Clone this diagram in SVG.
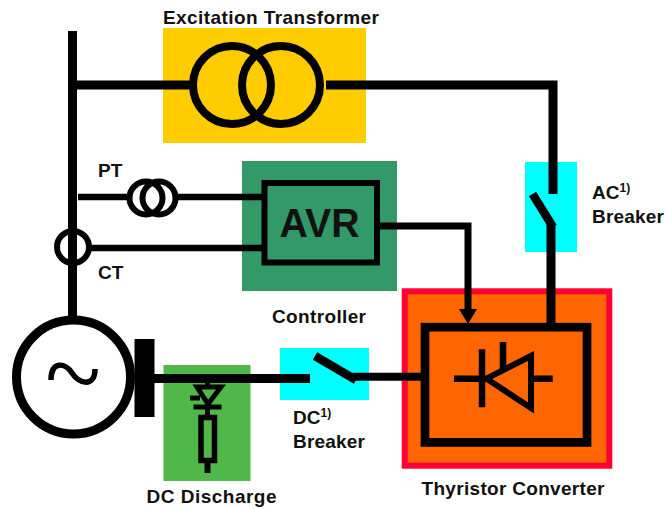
<svg xmlns="http://www.w3.org/2000/svg" width="665" height="509" viewBox="0 0 665 509">
<style>
text{font-family:"Liberation Sans",Arial,sans-serif;font-weight:bold;font-size:19px;fill:#111}
.s{font-size:12px}
.n{fill:none;stroke:#000}
.c{fill:none;stroke:#000;stroke-linecap:butt;stroke-linejoin:miter}
.w9{stroke-width:9}.w6{stroke-width:6.5}
</style>
<rect width="665" height="509" fill="#fff"/>
<g id="excitation-transformer-bg"><rect x="163" y="28" width="203" height="115" fill="#FFCC00"/></g>
<g id="controller-bg"><rect x="242" y="161" width="155" height="130" fill="#339966"/></g>
<g id="ac-breaker-bg"><rect x="525" y="162" width="52" height="90" fill="#00FFFF"/></g>
<g id="thyristor-converter-bg"><rect x="404.7" y="291.3" width="204.6" height="174.4" fill="#FF6600" stroke="#FF0033" stroke-width="6"/></g>
<g id="dc-breaker-bg"><rect x="280" y="348" width="89" height="52" fill="#00FFFF"/></g>
<g id="dc-discharge-bg"><rect x="163.500" y="365" width="87" height="116" fill="#50B848"/></g>

<g id="connectors">
<path class="c w9" d="M72.500 31V316"/>
<path class="c w9" d="M72 85H190"/>
<path class="c w9" d="M326 85H553V194"/>
<path class="c w6" d="M78 197H128M177 197H262"/>
<path class="c w6" d="M90 248H262"/>
<path class="c" stroke-width="7" d="M380 226H468V309"/>
<path d="M459 309H477L468 324Z" fill="#000"/>
<path class="c w9" d="M551 224V325"/>
<path class="c w9" d="M154 378.500H310"/>
<path class="c" stroke-width="8" d="M352 376.700H421"/>
</g>

<g id="excitation-transformer">
<circle class="n" cx="232" cy="85" r="39" stroke-width="8"/>
<circle class="n" cx="281" cy="85" r="39" stroke-width="8"/>
<text x="163" y="24" textLength="216" lengthAdjust="spacing">Excitation Transformer</text>
</g>
<g id="pt">
<circle class="n" cx="146" cy="198" r="16.500" stroke-width="6"/>
<circle class="n" cx="159" cy="198" r="16.500" stroke-width="6"/>
<text x="98" y="177">PT</text>
</g>
<g id="ct">
<circle class="n" cx="73" cy="247" r="16" stroke-width="6"/>
<text x="98" y="279">CT</text>
</g>
<g id="avr">
<rect x="264.500" y="183" width="112.500" height="79.500" class="n" stroke-width="6"/>
<text x="279.500" y="237" style="font-size:40px" textLength="80" lengthAdjust="spacingAndGlyphs">AVR</text>
<text x="272" y="323" textLength="94">Controller</text>
</g>
<g id="ac-breaker">
<path class="c" stroke-width="8.500" d="M532.500 194L553 227"/>
<text x="592" y="199">AC<tspan class="s" dy="-7">1)</tspan></text>
<text x="592" y="223" textLength="72">Breaker</text>
</g>
<g id="thyristor-converter">
<rect x="425" y="327.200" width="162" height="115.200" class="n" stroke-width="8.700"/>
<path class="c w6" d="M454 378.700H486M532 378.700H552.700M482 349.300V407.300M503 342V369"/>
<path class="c" stroke-width="6" d="M486.500 378.700L531 356V408Z"/>
<text x="421.500" y="495" textLength="183">Thyristor Converter</text>
</g>
<g id="dc-breaker">
<path class="c" stroke-width="8.500" d="M315 356L356 380"/>
<text x="293" y="424">DC<tspan class="s" dy="-7">1)</tspan></text>
<text x="293" y="448" textLength="72">Breaker</text>
</g>
<g id="generator">
<circle class="n" cx="73.500" cy="377" r="57" stroke-width="9" fill="#fff"/>
<path class="c" stroke-width="5.500" d="M51 380C51 361 65 362 72 373C79 384 95 388 95 369"/>
<rect x="134.500" y="339" width="20" height="78" fill="#000"/>
</g>
<g id="dc-discharge">
<path class="c" stroke-width="5" d="M207.500 383V388M197 387H221L208 404ZM193.500 407H221.500M190 398H200M207.500 407V416"/>
<rect x="201" y="417.500" width="13.500" height="43" class="n" stroke-width="5.500"/>
<path class="c" stroke-width="6" d="M207.500 461V473"/>
<text x="146.500" y="503" textLength="130">DC Discharge</text>
</g>
</svg>
